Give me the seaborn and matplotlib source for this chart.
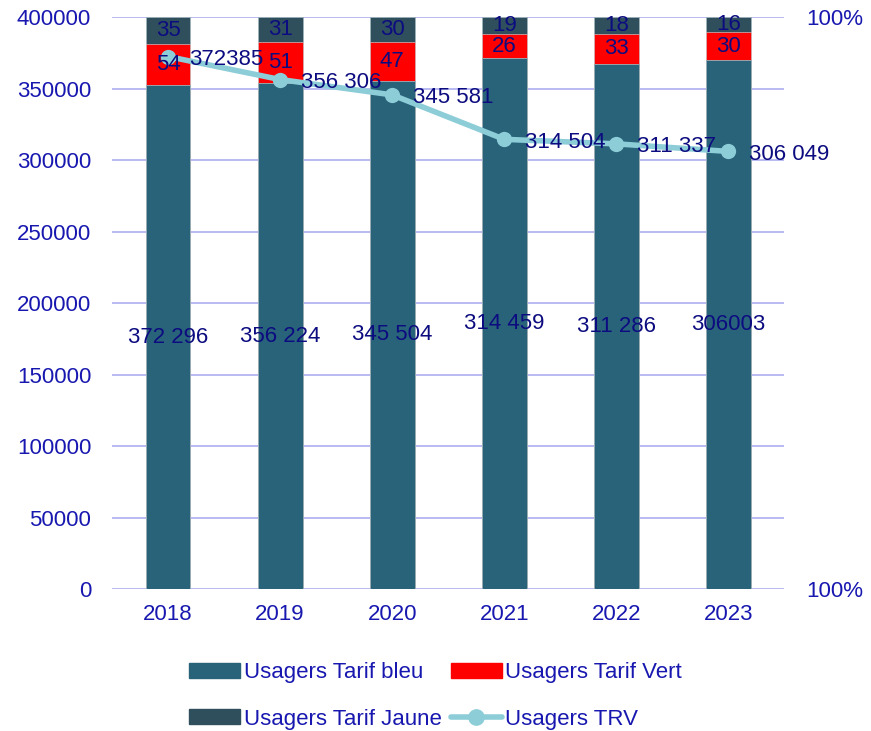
import numpy as np
import matplotlib
matplotlib.use("Agg")
import matplotlib.pyplot as plt
import matplotlib.ticker as mticker
from matplotlib.patches import Patch
from matplotlib.lines import Line2D
import seaborn as sns
import pandas as pd

years = ["2018", "2019", "2020", "2021", "2022", "2023"]
tarif_bleu = [372296, 356224, 345504, 314459, 311286, 306003]
tarif_vert = [54, 51, 47, 26, 33, 30]
tarif_jaune = [35, 31, 30, 19, 18, 16]
usagers_trv = [372385, 356306, 345581, 314504, 311337, 306049]
bleu_labels = ["372 296", "356 224", "345 504", "314 459", "311 286", "306003"]
trv_labels = ["372385", "356 306", "345 581", "314 504", "311 337", "306 049"]

c_bleu = "#29637A"
c_vert = "#FF0000"
c_jaune = "#2F4F5C"
c_line = "#8CCDD8"
c_text = "#0C0C80"
c_tick = "#1818B0"
c_grid = "#B4B4F2"

sns.set_style("white")
plt.rcParams["font.family"] = ["Liberation Sans", "DejaVu Sans"]
fs = 16

# 100% stacked shares
df = pd.DataFrame({"year": years, "bleu": tarif_bleu, "vert": tarif_vert, "jaune": tarif_jaune})
total = df[["bleu", "vert", "jaune"]].sum(axis=1)
df["p_bleu"] = df["bleu"] / total
df["p_vert"] = (df["bleu"] + df["vert"]) / total
df["p_jaune"] = (df["bleu"] + df["vert"] + df["jaune"]) / total
pmin, pmax = 0.998, 1.0

fig = plt.figure(figsize=(8.71, 7.31), dpi=100)
ax = fig.add_axes([0.1286, 0.194, 0.772, 0.7827])
ax.set_ylim(0, 400000)
ax.set_yticks(np.arange(0, 400001, 50000))
ax.grid(axis="y", color=c_grid, linewidth=1.3)
ax.grid(axis="x", visible=False)
for s in ax.spines.values():
    s.set_visible(False)
ax.tick_params(axis="y", length=0, pad=15, labelsize=fs, labelcolor=c_tick)
ax.tick_params(axis="x", length=0, pad=11, labelsize=fs, labelcolor=c_tick)

# bars on the secondary (percent) axis
axb = ax.twinx()
sns.barplot(data=df, x="year", y="p_jaune", color=c_jaune, width=0.4, saturation=1,
            edgecolor="#9fb3bb", linewidth=0.6, ax=axb)
sns.barplot(data=df, x="year", y="p_vert", color=c_vert, width=0.4, saturation=1,
            edgecolor="#e0e0e0", linewidth=0.4, ax=axb)
sns.barplot(data=df, x="year", y="p_bleu", color=c_bleu, width=0.4, saturation=1,
            edgecolor="#9fb3bb", linewidth=0.6, ax=axb)
axb.set_ylim(pmin, pmax)
axb.set_yticks([pmin, pmax])
axb.yaxis.set_major_formatter(mticker.FuncFormatter(lambda v, p: f"{v:.0%}"))
axb.tick_params(axis="y", length=0, pad=16, labelsize=fs, labelcolor=c_tick)
axb.set_xlabel("")
axb.set_ylabel("")
ax.set_xlabel("")
for s in axb.spines.values():
    s.set_visible(False)

# line on top, sharing the primary scale
axl = fig.add_axes(ax.get_position(), sharex=ax, sharey=ax)
axl.patch.set_visible(False)
xs = np.arange(len(years))
sns.lineplot(x=xs, y=usagers_trv, color=c_line, linewidth=4, marker="o", markersize=11,
             markeredgewidth=0, ax=axl)
for i in range(len(years)):
    axl.annotate(trv_labels[i], (xs[i], usagers_trv[i]), xytext=(15, -2),
                 textcoords="offset points", ha="left", va="center", fontsize=fs, color=c_text)

# bar labels drawn above the line, positioned on the bar scale
for i in range(len(years)):
    axl.text(i, (pmin + df["p_bleu"][i]) / 2, bleu_labels[i], ha="center", va="center",
             fontsize=fs, color=c_text, transform=axb.transData)
    axl.text(i, (df["p_bleu"][i] + df["p_vert"][i]) / 2, str(tarif_vert[i]), ha="center",
             va="center", fontsize=fs, color=c_text, transform=axb.transData)
    axl.text(i, (df["p_vert"][i] + df["p_jaune"][i]) / 2, str(tarif_jaune[i]), ha="center",
             va="center", fontsize=fs, color=c_text, transform=axb.transData)
axl.axis("off")
ax.set_xlim(-0.5, len(years) - 0.5)
ax.set_ylim(0, 400000)

handles = [Patch(color=c_bleu), Patch(color=c_jaune), Patch(color=c_vert),
           Line2D([], [], color=c_line, linewidth=4, marker="o", markersize=11)]
labels = ["Usagers Tarif bleu", "Usagers Tarif Jaune", "Usagers Tarif Vert", "Usagers TRV"]
leg = fig.legend(handles, labels, loc="center", bbox_to_anchor=(0.5, 0.048), ncol=2,
                 frameon=False, fontsize=fs, handlelength=2.3, handleheight=0.65,
                 handletextpad=0.15, columnspacing=0.4, labelspacing=1.15)
for t in leg.get_texts():
    t.set_color(c_tick)

fig.savefig("out.png", dpi=100)
